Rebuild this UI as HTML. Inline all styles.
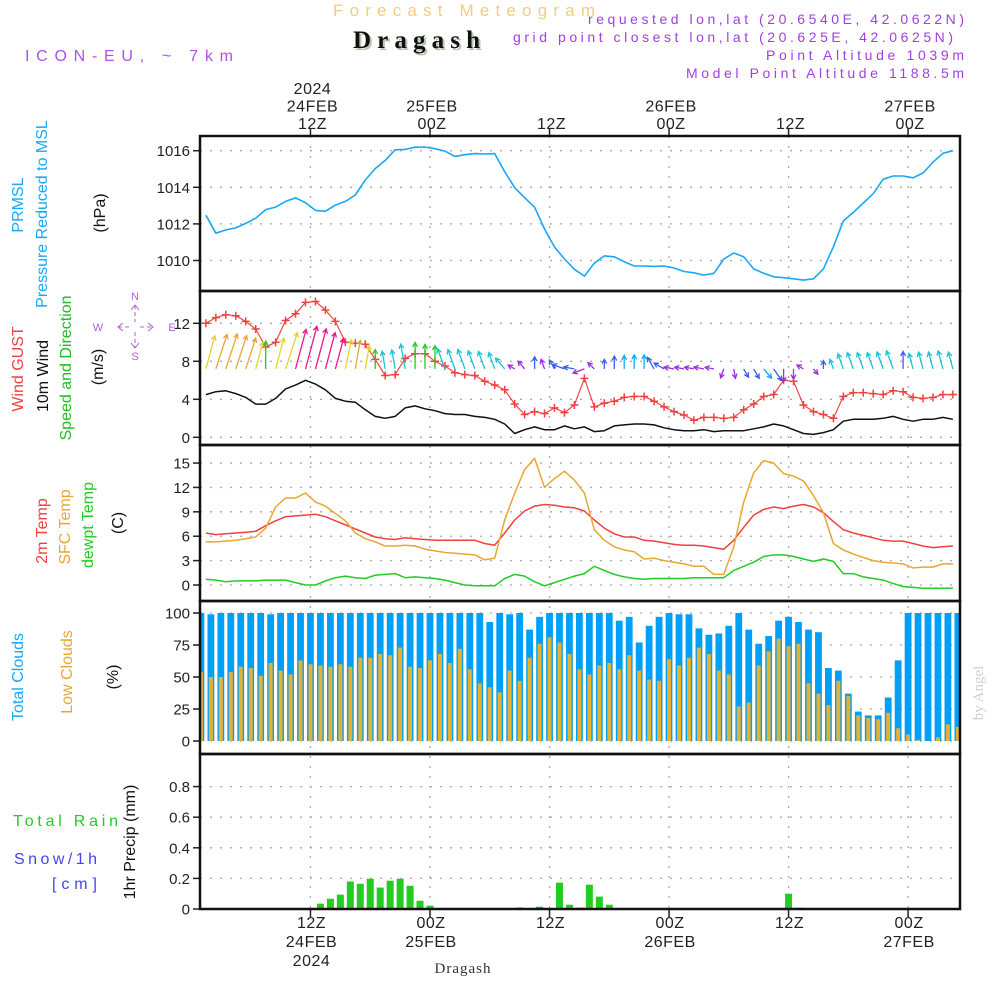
<!DOCTYPE html>
<html><head><meta charset="utf-8"><title>Meteogram Dragash</title>
<style>
html,body{margin:0;padding:0;background:#fff;}
svg{display:block;font-family:"Liberation Sans",sans-serif;}
</style></head>
<body>
<svg id="chart" xmlns="http://www.w3.org/2000/svg" width="1000" height="1000" viewBox="0 0 1000 1000">
<defs>
<clipPath id="plotclip"><rect x="200" y="136" width="760" height="773"/></clipPath>
</defs>
<rect x="0" y="0" width="1000" height="1000" fill="#fff"/>
<text x="333" y="16" font-size="17" fill="#f5cc80" textLength="265" letter-spacing="3">Forecast Meteogram</text>
<text x="355" y="50" font-size="25" font-weight="bold" font-family="Liberation Serif,serif" fill="#b8c8b0" textLength="127">Dragash</text>
<text x="353" y="48" font-size="25" font-weight="bold" font-family="Liberation Serif,serif" fill="#111" textLength="127">Dragash</text>
<text x="25" y="61" font-size="16" fill="#b050e8" textLength="208">ICON-EU, ~ 7km</text>
<text x="964" y="24" font-size="14" fill="#a040e0" text-anchor="end" textLength="376">requested lon,lat (20.6540E, 42.0622N)</text>
<text x="953" y="42" font-size="14" fill="#a040e0" text-anchor="end" textLength="440">grid point closest lon,lat (20.625E, 42.0625N)</text>
<text x="964" y="60" font-size="14" fill="#a040e0" text-anchor="end" textLength="198">Point Altitude 1039m</text>
<text x="964" y="78" font-size="14" fill="#a040e0" text-anchor="end" textLength="278">Model Point Altitude 1188.5m</text>
<g id="grid"></g>
<g id="marks" clip-path="url(#plotclip)"></g>
<g id="axes"></g>
<g id="labels"></g>
</svg>
<script>
// ---------- DATA ----------
const timeLabelsTop = [["2024","24FEB","12Z"],["25FEB","00Z"],["12Z"],["26FEB","00Z"],["12Z"],["27FEB","00Z"]];
const timeLabelsBottom = [["12Z","24FEB","2024"],["00Z","25FEB"],["12Z"],["00Z","26FEB"],["12Z"],["00Z","27FEB"]];
const gridHours = [-12, 0, 12, 24, 36, 48]; // hours relative to 25FEB 00Z
const lineStartHour = -22.5; // first line sample
const barStartHour = -23;    // first bar
const pressure = [1012.47,1011.49,1011.67,1011.78,1012.03,1012.31,1012.78,1012.92,1013.23,1013.42,1013.16,1012.74,1012.69,1013.03,1013.23,1013.58,1014.4,1015.02,1015.47,1016.05,1016.07,1016.19,1016.2,1016.11,1015.98,1015.69,1015.78,1015.84,1015.82,1015.84,1014.85,1013.98,1013.43,1012.91,1011.72,1010.74,1010.08,1009.52,1009.15,1009.85,1010.25,1010.2,1009.93,1009.7,1009.7,1009.68,1009.7,1009.59,1009.4,1009.33,1009.2,1009.3,1010.08,1010.41,1010.2,1009.54,1009.3,1009.11,1009.06,1009.0,1008.93,1009.0,1009.54,1010.75,1012.16,1012.63,1013.14,1013.65,1014.44,1014.62,1014.62,1014.52,1014.78,1015.37,1015.86,1016.0];
const wind10m = [4.5,4.8,4.9,4.6,4.2,3.5,3.5,4.1,5.1,5.5,6.0,5.6,5.0,4.1,3.8,3.7,2.9,2.2,2.0,2.2,3.1,3.3,3.0,2.8,2.5,2.4,2.4,2.2,2.1,1.9,1.4,0.4,0.8,1.1,0.8,0.8,1.2,0.9,1.1,0.6,0.7,1.2,1.3,1.4,1.4,1.3,1.0,0.8,0.7,0.7,0.8,0.6,0.7,0.7,0.7,0.9,1.1,1.4,1.2,0.8,0.4,0.3,0.5,0.8,1.7,1.9,1.9,1.9,2.0,2.2,1.9,1.7,1.9,1.9,2.1,1.9];
const windGust = [12.0,12.6,12.9,12.8,12.2,11.4,9.5,10.0,12.3,13.0,14.2,14.3,13.4,12.2,10.0,9.9,9.8,8.2,6.5,6.6,8.3,8.8,8.8,8.0,7.5,6.8,6.6,6.5,5.9,5.5,5.0,3.5,2.4,2.7,2.5,3.1,2.6,3.4,6.2,3.2,3.6,3.8,4.2,4.3,4.3,3.8,3.2,2.7,2.35,1.8,2.1,2.1,2.0,2.1,2.9,3.5,4.3,4.5,6.0,5.9,3.4,2.7,2.4,2.0,4.3,4.7,4.7,4.6,4.5,4.9,4.8,4.2,4.1,4.2,4.5,4.5];
const windToDeg = [15,18,18,18,18,15,0,15,18,15,15,15,15,15,12,10,10,0,350,350,350,0,0,0,340,340,340,340,340,340,320,300,320,0,340,330,290,280,250,315,0,0,0,0,0,330,300,280,280,280,280,280,200,170,150,150,140,145,180,180,300,140,0,340,340,340,340,340,340,340,0,345,345,345,345,345];
const windColorKey = ["Y","O","O","O","O","Y","G","Y","Y","P","P","P","P","P","Y","O","Y","G","C","C","C","G","G","G","C","C","C","C","C","C","C","V","V","B","V","B","B","B","V","V","B","B","L","L","L","B","B","V","V","V","V","V","V","V","B","B","L","B","V","V","V","V","B","C","C","C","C","C","C","C","B","C","C","C","C","C"];
const temp2m = [6.4,6.2,6.3,6.4,6.5,6.6,7.3,7.9,8.4,8.5,8.6,8.7,8.4,7.9,7.4,6.9,6.4,5.9,5.7,5.6,5.8,5.7,5.6,5.5,5.5,5.5,5.5,5.5,5.1,4.9,6.4,8.0,9.1,9.7,9.9,9.8,9.6,9.5,9.1,8.0,7.0,6.3,5.9,5.9,5.5,5.4,5.2,5.0,4.9,4.9,4.8,4.6,4.4,5.5,7.1,8.6,9.3,9.6,9.4,9.7,9.9,9.6,8.9,7.8,6.8,6.4,6.1,5.8,5.5,5.4,5.4,5.1,4.8,4.6,4.7,4.8];
const tempSfc = [5.3,5.3,5.4,5.5,5.7,5.9,7.0,9.6,10.7,10.7,11.3,10.2,9.7,8.8,7.9,6.4,5.7,5.3,4.8,4.8,4.9,4.8,4.4,4.2,4.0,3.9,3.8,3.7,3.1,3.3,8.0,11.3,14.2,15.6,12.0,13.1,14.0,12.9,11.3,6.8,5.5,4.7,4.3,4.1,3.2,3.3,3.0,2.8,2.6,2.3,2.3,1.3,1.3,4.7,10.2,13.8,15.3,15.0,13.7,13.4,12.8,11.0,8.9,5.1,4.3,3.8,3.4,3.0,2.8,2.7,2.6,2.1,2.2,2.2,2.6,2.6];
const dewpoint = [0.7,0.6,0.4,0.5,0.5,0.5,0.6,0.6,0.6,0.3,0.0,0.0,0.5,0.9,1.1,0.9,0.8,1.2,1.3,1.4,0.9,1.0,0.9,0.8,0.6,0.3,0.0,-0.1,-0.1,-0.1,0.8,1.3,1.1,0.4,-0.1,0.3,0.7,1.1,1.4,2.3,1.8,1.3,1.0,0.8,0.7,0.8,0.8,0.8,0.8,0.9,0.9,0.9,0.9,1.8,2.3,2.8,3.5,3.7,3.7,3.5,3.2,2.9,3.2,2.9,1.4,1.4,1.0,0.8,0.6,0.2,-0.2,-0.3,-0.4,-0.4,-0.4,-0.4];
const totalClouds = [100,99,100,100,100,100,100,99,100,100,100,100,100,100,100,100,100,100,100,100,100,100,100,100,100,100,100,100,100,93,100,99,100,87,97,100,100,100,100,100,100,100,94,97,77,90,97,100,99,99,88,83,84,90,100,87,76,82,94,97,93,87,85,57,55,37,23,20,20,34,63,100,100,100,100,100,100];
const lowClouds = [54,50,50,54,58,57,51,61,55,52,63,60,59,58,60,58,65,65,68,67,73,58,57,63,68,61,72,56,45,42,38,55,47,65,76,81,77,68,56,52,59,61,56,67,55,48,47,64,59,65,73,68,55,52,27,30,59,70,80,74,76,45,37,28,47,35,20,18,17,22,10,5,1,0,3,13,11];
const precip = [0,0,0,0,0,0,0,0,0,0,0,0,0.035,0.067,0.094,0.18,0.165,0.198,0.14,0.185,0.198,0.152,0.054,0.022,0.002,0,0,0,0,0,0,0,0.01,0,0.015,0,0.172,0.028,0.009,0.159,0.081,0.028,0.003,0,0,0,0,0,0,0,0,0,0,0,0,0,0,0,0,0.1,0.009,0,0,0,0,0,0,0,0,0,0,0,0,0,0,0,0];
const pTicks = [1010,1012,1014,1016];
const wTicks = [0,4,8,12];
const tTicks = [0,3,6,9,12,15];
const cTicks = [0,25,50,75,100];
const rTicks = [0,0.2,0.4,0.6,0.8];
const rTickLabels = ["0","0.2","0.4","0.6","0.8"];

// ---------- SCALES ----------
const X = h => 430 + h*9.96;
const yP = v => 150.7 + (1016 - v)*18.3;
const yW = v => 437.3 - v*9.5;
const yT = v => 585 - v*8.13;
const yC = v => 741 - v*1.28;
const yR = v => 909 - v*153;
const colorMap = {Y:"#e3d52a",O:"#e8a732",G:"#22cc22",P:"#f0148c",C:"#18c4d8",L:"#10a8f8",B:"#3a5cf0",V:"#9b30e0"};
const panels = [[136,291],[291,445],[445,601],[601,754],[754,909]];

const NS = "http://www.w3.org/2000/svg";
function mk(parent, tag, attrs, txt){
  const el = document.createElementNS(NS, tag);
  for (const k in attrs) el.setAttribute(k, attrs[k]);
  if (txt !== undefined) el.textContent = txt;
  parent.appendChild(el);
  return el;
}
const gGrid = document.getElementById('grid');
const gMarks = document.getElementById('marks');
const gAxes = document.getElementById('axes');
const gLab = document.getElementById('labels');

// ---------- GRID ----------
function hgrid(ticks, yf, name){
  ticks.forEach(t => {
    const l = mk(gGrid, 'line', {x1:200, x2:960, y1:yf(t), y2:yf(t), stroke:'#aaa', 'stroke-width':1.3, 'stroke-dasharray':'2 8'});
    
    
    const tk = mk(gAxes, 'line', {x1:193, x2:200, y1:yf(t), y2:yf(t), stroke:'#222', 'stroke-width':1.5});
    
    
  });
}
hgrid(pTicks, yP, 'pressure');
hgrid(wTicks, yW, 'wind');
hgrid(tTicks, yT, 'temp');
hgrid(cTicks, yC, 'cloud');
hgrid(rTicks, yR, 'precip');
gridHours.forEach(h => {
  const l = mk(gGrid, 'line', {x1:X(h), x2:X(h), y1:136, y2:909, stroke:'#aaa', 'stroke-width':1.3, 'stroke-dasharray':'2 8'});
  
  
  const t1 = mk(gAxes, 'line', {x1:X(h), x2:X(h), y1:128, y2:136, stroke:'#222', 'stroke-width':1.5});
  
  
  const t2 = mk(gAxes, 'line', {x1:X(h), x2:X(h), y1:909, y2:917, stroke:'#222', 'stroke-width':1.5});
  
  
});

// ---------- MARKS ----------
function linePath(vals, yf, color, name, w){
  const d = vals.map((v,i) => (i?'L':'M') + X(lineStartHour+i).toFixed(1) + ',' + yf(v).toFixed(1)).join(' ');
  const p = mk(gMarks, 'path', {d:d, fill:'none', stroke:color, 'stroke-width':w||1.5, 'stroke-linejoin':'round'});
  
  
}
// clouds
totalClouds.forEach((v,k) => {
  const x = X(barStartHour+k);
  const r = mk(gMarks, 'rect', {x:x-3.4, y:yC(v), width:6.8, height:yC(0)-yC(v), fill:'#00a0f8'});
  
  
});
lowClouds.forEach((v,k) => {
  const x = X(barStartHour+k);
  const r = mk(gMarks, 'rect', {x:x-2, y:yC(v), width:4, height:yC(0)-yC(v), fill:'#e6b030'});
  
  
});
// precip
precip.forEach((v,k) => {
  if (v <= 0) return;
  const x = X(barStartHour+k);
  const r = mk(gMarks, 'rect', {x:x-3.5, y:yR(v), width:7, height:yR(0)-yR(v), fill:'#22cc22'});
  
  
});
// pressure
linePath(pressure, yP, '#18a8f8', 'pressure-line', 1.6);
// temps
linePath(temp2m, yT, '#f04040', 'temp-2m-line', 1.5);
linePath(tempSfc, yT, '#e8a732', 'temp-sfc-line', 1.5);
linePath(dewpoint, yT, '#22cc22', 'dewpoint-line', 1.5);
// wind
linePath(wind10m, yW, '#111', 'wind-10m-line', 1.5);
linePath(windGust, yW, '#f04848', 'wind-gust-line', 1.2);
windGust.forEach((v,i) => {
  const x = X(lineStartHour+i), y = yW(v);
  const p = mk(gMarks, 'path', {d:`M${x-4},${y}H${x+4}M${x},${y-4}V${y+4}`, stroke:'#f04040', 'stroke-width':1.5});
  
  
});
windToDeg.forEach((deg,i) => {
  const x0 = X(lineStartHour+i), y0 = yW(7.2);
  const len = 5 + 6.5*wind10m[i];
  const a = deg*Math.PI/180;
  const x1 = x0 + len*Math.sin(a), y1 = y0 - len*Math.cos(a);
  const hl = 5, ha = 0.5;
  const bx1 = x1 - hl*Math.sin(a-ha), by1 = y1 + hl*Math.cos(a-ha);
  const bx2 = x1 - hl*Math.sin(a+ha), by2 = y1 + hl*Math.cos(a+ha);
  const c = colorMap[windColorKey[i]];
  const p = mk(gMarks, 'path', {d:`M${x0.toFixed(1)},${y0.toFixed(1)}L${x1.toFixed(1)},${y1.toFixed(1)}M${bx1.toFixed(1)},${by1.toFixed(1)}L${x1.toFixed(1)},${y1.toFixed(1)}L${bx2.toFixed(1)},${by2.toFixed(1)}`, stroke:c, 'stroke-width':1.3, fill:'none'});
  
  
});

// ---------- AXES / FRAMES ----------
panels.forEach((pn,i) => {
  const r = mk(gAxes, 'rect', {x:200, y:pn[0], width:760, height:pn[1]-pn[0], fill:'none', stroke:'#111', 'stroke-width':2.5});
  
  
});
function tickLabels(ticks, yf, name, labels){
  ticks.forEach((t,i) => {
    const tx = mk(gAxes, 'text', {x:190, y:yf(t)+5.5, 'font-size':15, fill:'#222', 'text-anchor':'end'}, labels ? labels[i] : String(t));
    
    
  });
}
tickLabels(pTicks, yP, 'pressure');
tickLabels(wTicks, yW, 'wind');
tickLabels(tTicks, yT, 'temp');
tickLabels(cTicks, yC, 'cloud');
tickLabels(rTicks, yR, 'precip', rTickLabels);

gridHours.forEach((h,i) => {
  const top = timeLabelsTop[i];
  top.forEach((s,j) => {
    const y = 129 - (top.length-1-j)*17.5;
    const t = mk(gLab, 'text', {x:X(h)+2, y:y, 'font-size':16, fill:'#222', 'text-anchor':'middle', 'letter-spacing':'0.5'}, s);
    
    
  });
  timeLabelsBottom[i].forEach((s,j) => {
    const t = mk(gLab, 'text', {x:X(h)+1, y:928 + j*19, 'font-size':16, fill:'#222', 'text-anchor':'middle', 'letter-spacing':'0.5'}, s);
    
    
  });
});

// ---------- LEFT LABELS ----------
function vlabel(x, y, txt, color, name, size){
  const t = mk(gLab, 'text', {x:0, y:0, transform:`translate(${x},${y}) rotate(-90)`, 'font-size':size||16, fill:color, 'text-anchor':'middle'}, txt);
  
  
}
vlabel(23, 205, 'PRMSL', '#18a8f8', 'prmsl-label');
vlabel(47, 214, 'Pressure Reduced to MSL', '#18a8f8', 'pressure-axis-title');
vlabel(105, 213, '(hPa)', '#111', 'pressure-unit');
vlabel(23, 369, 'Wind GUST', '#f04040', 'gust-axis-title');
vlabel(48, 376, '10m Wind', '#111', 'wind-axis-title');
vlabel(71, 368, 'Speed and Direction', '#22bb22', 'wind-direction-title');
vlabel(103, 367, '(m/s)', '#111', 'wind-unit');
vlabel(47, 531, '2m Temp', '#f04040', 'temp-2m-title');
vlabel(70, 527, 'SFC Temp', '#e8a732', 'temp-sfc-title');
vlabel(93, 525, 'dewpt Temp', '#22cc22', 'dewpoint-title');
vlabel(123, 523, '(C)', '#111', 'temp-unit');
vlabel(23, 677, 'Total Clouds', '#18a8f8', 'total-clouds-title');
vlabel(72, 672, 'Low Clouds', '#e8a732', 'low-clouds-title');
vlabel(118, 677, '(%)', '#111', 'cloud-unit');
vlabel(135, 842, '1hr Precip (mm)', '#111', 'precip-axis-title');
const lt = [[13,826,'Total  Rain','#22cc22','rain-legend',105],[14,864,'Snow/1h','#4444ee','snow-legend',83],[52,889,'[cm]','#4444ee','snow-unit',45]];
lt.forEach(a => {
  const t = mk(gLab, 'text', {x:a[0], y:a[1], 'font-size':16, fill:a[3], textLength:a[5]}, a[2]);
  
  
});
// compass
const cp = '#b060e0';
const cl = mk(gLab, 'path', {d:'M135,305V322M135,332V348M118,327H130M140,327H153', stroke:cp, 'stroke-width':1, 'stroke-dasharray':'4 3', fill:'none'});


const ch = mk(gLab, 'path', {d:'M131,310L135,305L139,310M131,343L135,348L139,343M123,323L118,327L123,331M148,323L153,327L148,331', stroke:cp, 'stroke-width':1, fill:'none'});


[['N',135,300],['S',135,360],['W',98,331],['E',172,331]].forEach(a => {
  const t = mk(gLab, 'text', {x:a[1], y:a[2], 'font-size':11, fill:cp, 'text-anchor':'middle'}, a[0]);
  
  
});
// bottom location & watermark
const bl = mk(gLab, 'text', {x:463, y:973, 'font-size':15, fill:'#333', 'text-anchor':'middle', 'font-family':'Liberation Serif,serif', 'letter-spacing':'1'}, 'Dragash');


const wm = mk(gLab, 'text', {x:0, y:0, transform:'translate(983,693) rotate(-90)', 'font-size':15, fill:'#d0d0d0', 'text-anchor':'middle', 'font-family':'Liberation Serif,serif'}, 'by Angel');


</script>
</body></html>
